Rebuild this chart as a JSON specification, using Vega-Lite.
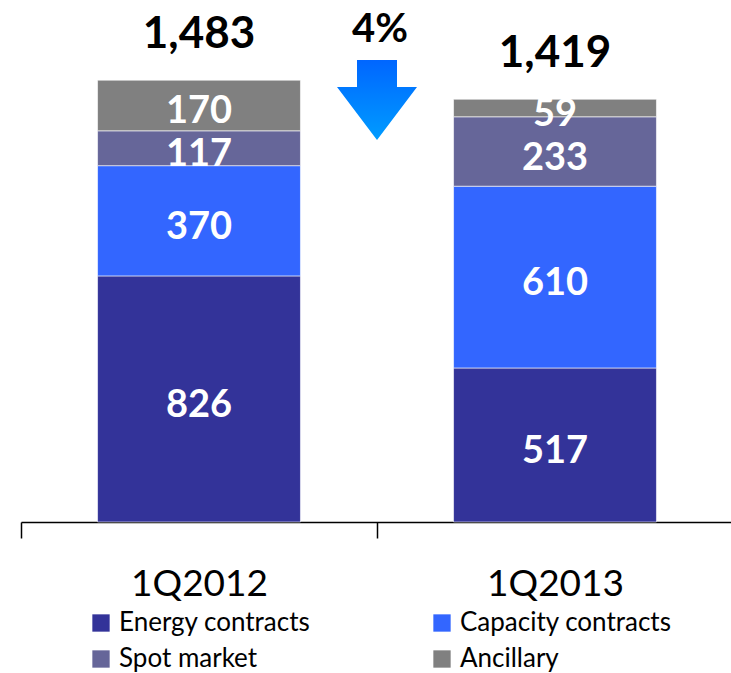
{
  "$schema": "https://vega.github.io/schema/vega-lite/v6.json",
  "width": 712,
  "height": 522,
  "autosize": {"type": "none"},
  "padding": {"left": 21, "top": 0, "right": 0, "bottom": 151},
  "background": "white",
  "config": {"view": {"stroke": null}, "font": "Lato"},
  "data": {
    "values": [
      {"period": "1Q2012", "segment": "Energy contracts", "ord": 1, "value": 826},
      {"period": "1Q2012", "segment": "Capacity contracts", "ord": 2, "value": 370},
      {"period": "1Q2012", "segment": "Spot market", "ord": 3, "value": 117},
      {"period": "1Q2012", "segment": "Ancillary", "ord": 4, "value": 170},
      {"period": "1Q2013", "segment": "Energy contracts", "ord": 1, "value": 517},
      {"period": "1Q2013", "segment": "Capacity contracts", "ord": 2, "value": 610},
      {"period": "1Q2013", "segment": "Spot market", "ord": 3, "value": 233},
      {"period": "1Q2013", "segment": "Ancillary", "ord": 4, "value": 59}
    ]
  },
  "encoding": {
    "x": {
      "field": "period", "type": "nominal",
      "scale": {"paddingInner": 0, "paddingOuter": 0},
      "axis": {
        "title": null, "labelAngle": 0, "tickBand": "extent",
        "domainColor": "black", "domainWidth": 1.5, "tickColor": "black", "tickWidth": 1.5,
        "tickSize": 16, "labelFontSize": 37, "labelColor": "black", "labelPadding": 28,
        "labelFont": "Lato"
      }
    }
  },
  "layer": [
    {
      "transform": [{"stack": "value", "groupby": ["period"], "sort": [{"field": "ord"}], "as": ["y0", "y1"]}],
      "mark": {"type": "bar", "width": {"band": 0.57}, "stroke": "white", "strokeWidth": 0.6},
      "encoding": {
        "y": {"field": "y0", "type": "quantitative", "scale": {"domain": [0, 1752], "nice": false, "zero": true}, "axis": null},
        "y2": {"field": "y1"},
        "color": {
          "field": "segment", "type": "nominal",
          "scale": {
            "domain": ["Energy contracts", "Capacity contracts", "Spot market", "Ancillary"],
            "range": ["#333399", "#3366FF", "#666699", "#808080"]
          },
          "legend": {
            "title": null, "orient": "none", "legendX": 67, "legendY": 610,
            "direction": "horizontal", "columns": 2, "columnPadding": 118, "rowPadding": 10,
            "symbolType": "square", "symbolSize": 300, "symbolStrokeWidth": 0,
            "labelFontSize": 26, "labelColor": "black", "labelOffset": 5, "labelFont": "Lato",
            "labelLimit": 400
          }
        }
      }
    },
    {
      "transform": [
        {"stack": "value", "groupby": ["period"], "sort": [{"field": "ord"}], "as": ["y0", "y1"]},
        {"calculate": "(datum.y0 + datum.y1) / 2", "as": "mid"}
      ],
      "mark": {"type": "text", "color": "white", "fontSize": 38, "fontWeight": "bold", "baseline": "middle", "dy": 7},
      "encoding": {
        "y": {"field": "mid", "type": "quantitative"},
        "text": {"field": "value", "type": "quantitative"}
      }
    },
    {
      "transform": [{"aggregate": [{"op": "sum", "field": "value", "as": "total"}], "groupby": ["period"]}],
      "mark": {"type": "text", "color": "black", "fontSize": 44, "fontWeight": "bold", "baseline": "alphabetic", "dy": -32},
      "encoding": {
        "y": {"field": "total", "type": "quantitative"},
        "text": {"field": "total", "type": "quantitative", "format": ","}
      }
    },
    {
      "data": {"values": [{"period": "1Q2012", "label": "4%"}]},
      "layer": [
        {
          "mark": {"type": "text", "color": "black", "fontSize": 40, "fontWeight": "bold", "baseline": "alphabetic", "dx": 3},
          "encoding": {
            "x": {"field": "period", "type": "nominal", "bandPosition": 1},
            "y": {"datum": 1611, "type": "quantitative"},
            "text": {"field": "label"}
          }
        },
        {
          "mark": {
            "type": "point", "filled": true, "opacity": 1, "size": 6400, "dx": 3,
            "shape": "M-0.5,-1L0.5,-1L0.5,-0.33L1,-0.33L0,1L-1,-0.33L-0.5,-0.33Z",
            "fill": {"gradient": "linear", "x1": 0, "y1": 0, "x2": 0, "y2": 1,
              "stops": [{"offset": 0, "color": "#0066FF"}, {"offset": 1, "color": "#009CFF"}]},
            "strokeWidth": 0
          },
          "encoding": {
            "x": {"field": "period", "type": "nominal", "bandPosition": 1},
            "y": {"datum": 1416, "type": "quantitative"}
          }
        }
      ]
    }
  ]
}
